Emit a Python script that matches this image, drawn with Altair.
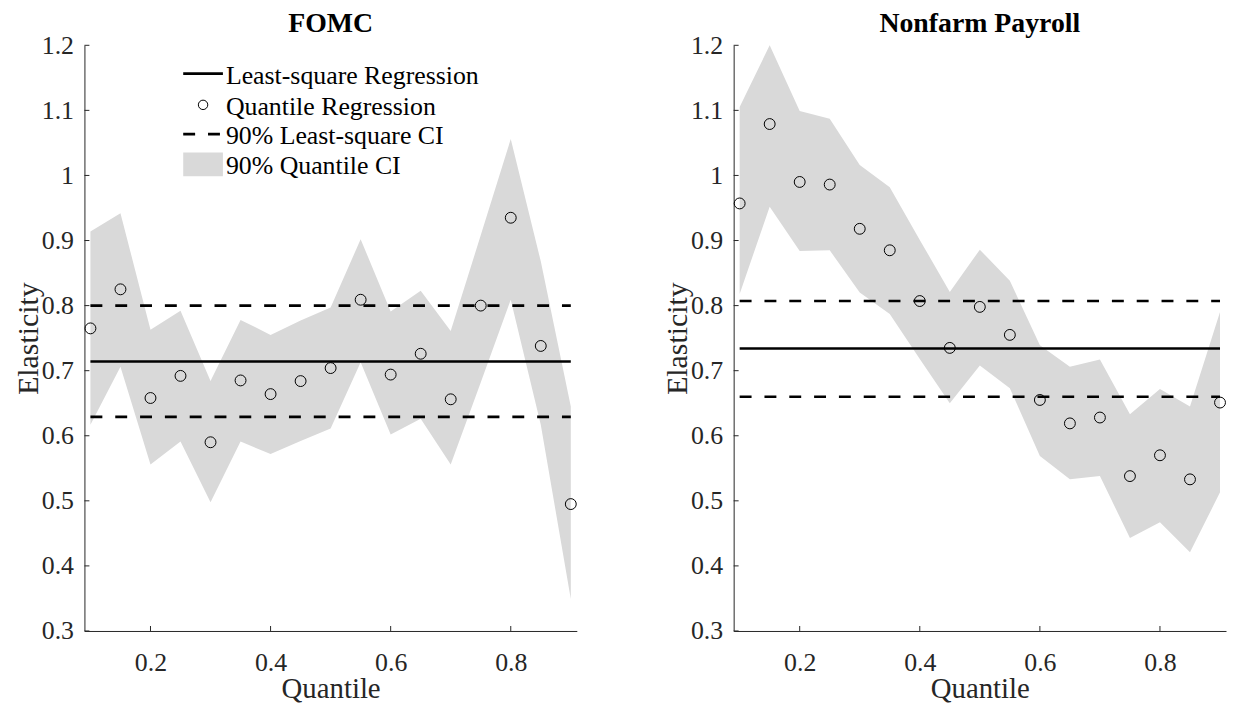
import altair as alt
import pandas as pd

quantiles = [0.10, 0.15, 0.20, 0.25, 0.30, 0.35, 0.40, 0.45, 0.50,
             0.55, 0.60, 0.65, 0.70, 0.75, 0.80, 0.85, 0.90]

fomc_qr = [0.765, 0.825, 0.658, 0.692, 0.590, 0.685, 0.664, 0.684, 0.704,
           0.809, 0.694, 0.726, 0.656, 0.800, 0.935, 0.738, 0.495]
fomc_lo = [0.617, 0.706, 0.556, 0.591, 0.498, 0.591, 0.572, 0.592, 0.611,
           0.713, 0.602, 0.626, 0.556, 0.682, 0.809, 0.617, 0.349]
fomc_hi = [0.914, 0.942, 0.763, 0.792, 0.684, 0.778, 0.755, 0.777, 0.797,
           0.902, 0.791, 0.823, 0.761, 0.908, 1.056, 0.868, 0.645]
fomc_ls = [0.714, 0.629, 0.800]   # estimate, lower CI, upper CI

nfp_qr = [0.957, 1.079, 0.990, 0.986, 0.918, 0.885, 0.807, 0.735, 0.798,
          0.755, 0.655, 0.619, 0.628, 0.538, 0.570, 0.533, 0.651]
nfp_lo = [0.818, 0.952, 0.884, 0.885, 0.820, 0.787, 0.718, 0.650, 0.708,
          0.673, 0.569, 0.533, 0.538, 0.443, 0.467, 0.421, 0.513]
nfp_hi = [1.105, 1.200, 1.099, 1.087, 1.016, 0.982, 0.901, 0.821, 0.886,
          0.838, 0.739, 0.706, 0.717, 0.633, 0.672, 0.645, 0.790]
nfp_ls = [0.734, 0.660, 0.807]

y_ticks = [0.3, 0.4, 0.5, 0.6, 0.7, 0.8, 0.9, 1.0, 1.1, 1.2]
x_ticks = [0.2, 0.4, 0.6, 0.8]
panel_titles = ["FOMC", "Nonfarm Payroll"]
legend_labels = ["Least-square Regression", "Quantile Regression",
                 "90% Least-square CI", "90% Quantile CI"]

FONT = "Liberation Serif"
AX = "#262626"
BAND = "#d9d9d9"
W, H = 496, 590
DASH = [12, 13]

xs = alt.Scale(domain=[0.09, 0.91], nice=False, zero=False)
ys = alt.Scale(domain=[0.3, 1.2], nice=False, zero=False)

xaxis = alt.Axis(values=x_ticks, format=".1f", ticks=False, grid=False,
                 domainColor=AX, domainWidth=1, labelFont=FONT, labelFontSize=26,
                 labelColor=AX, labelPadding=19, labelFlush=False, labelOverlap=False,
                 titleFont=FONT, titleFontSize=29, titleColor=AX,
                 titleFontWeight="normal", titlePadding=-1)
yaxis = alt.Axis(values=y_ticks, format="~g", ticks=False, grid=False,
                 domainColor=AX, domainWidth=1, labelFont=FONT, labelFontSize=26,
                 labelColor=AX, labelPadding=11, labelFlush=False, labelOverlap=False,
                 titleFont=FONT, titleFontSize=30, titleColor=AX,
                 titleFontWeight="normal", titlePadding=-2)


def X(field):
    return alt.X(field, scale=xs, axis=xaxis, title="Quantile")


def Y(field):
    return alt.Y(field, scale=ys, axis=yaxis, title="Elasticity")


def panel(title, qr, lo, hi, ls, legend=False):
    df = pd.DataFrame({"q": quantiles, "qr": qr, "lo": lo, "hi": hi})
    band = alt.Chart(df).mark_area(color=BAND, opacity=1).encode(
        x=X("q:Q"), y=Y("lo:Q"), y2="hi:Q")
    ls_df = pd.DataFrame({"x0": [quantiles[0]], "x1": [quantiles[-1]],
                          "est": [ls[0]], "lo": [ls[1]], "hi": [ls[2]]})
    base_ls = alt.Chart(ls_df)
    solid = base_ls.mark_rule(color="black", strokeWidth=2.6).encode(
        x=X("x0:Q"), x2="x1:Q", y=Y("est:Q"))
    dash_lo = base_ls.mark_rule(color="black", strokeWidth=2.6, strokeDash=DASH).encode(
        x=X("x0:Q"), x2="x1:Q", y=Y("lo:Q"))
    dash_hi = base_ls.mark_rule(color="black", strokeWidth=2.6, strokeDash=DASH).encode(
        x=X("x0:Q"), x2="x1:Q", y=Y("hi:Q"))
    pts = alt.Chart(df).mark_point(shape="circle", filled=False, color="black",
                                   strokeWidth=1, size=120, opacity=1).encode(
        x=X("q:Q"), y=Y("qr:Q"))
    # inward ticks (MATLAB style)
    yt = alt.Chart(pd.DataFrame({"v": y_ticks})).mark_rule(color=AX, strokeWidth=1).encode(
        y=Y("v:Q"), x=alt.value(0), x2=alt.value(5))
    xt = alt.Chart(pd.DataFrame({"v": x_ticks})).mark_rule(color=AX, strokeWidth=1).encode(
        x=X("v:Q"), y=alt.value(H), y2=alt.value(H - 5))
    layers = [band, solid, dash_lo, dash_hi, pts, yt, xt]

    if legend:
        one = pd.DataFrame({"k": [0]})
        lx0, lx1, tx = 99.5, 139.5, 142.5
        rows = [28.5, 60, 89.5, 120]
        layers.append(alt.Chart(one).mark_rule(color="black", strokeWidth=2.6).encode(
            x=alt.value(lx0), x2=alt.value(lx1), y=alt.value(rows[0])))
        layers.append(alt.Chart(one).mark_point(shape="circle", filled=False, color="black",
                                                strokeWidth=1, size=90, opacity=1).encode(
            x=alt.value((lx0 + lx1) / 2), y=alt.value(rows[1])))
        layers.append(alt.Chart(one).mark_rule(color="black", strokeWidth=2.6,
                                               strokeDash=DASH).encode(
            x=alt.value(lx0), x2=alt.value(lx1), y=alt.value(rows[2])))
        layers.append(alt.Chart(one).mark_rect(color=BAND).encode(
            x=alt.value(lx0), x2=alt.value(lx1),
            y=alt.value(rows[3] - 12), y2=alt.value(rows[3] + 12)))
        for i, lab in enumerate(legend_labels):
            layers.append(alt.Chart(pd.DataFrame({"t": [lab]})).mark_text(
                align="left", baseline="middle", font=FONT, fontSize=26, color="black",
                dy=2).encode(text="t:N", x=alt.value(tx), y=alt.value(rows[i])))

    return alt.layer(*layers).properties(
        width=W, height=H,
        title=alt.TitleParams(title, font=FONT, fontSize=28, fontWeight="bold",
                              color="black", anchor="middle", offset=-6))


left = panel(panel_titles[0], fomc_qr, fomc_lo, fomc_hi, fomc_ls, legend=True)
right = panel(panel_titles[1], nfp_qr, nfp_lo, nfp_hi, nfp_ls)

chart = alt.hconcat(left, right, spacing=84).properties(
    padding={"left": 5, "top": 0, "right": 0, "bottom": 0}
).configure(font=FONT, view=alt.ViewConfig(stroke=None))

chart.save("out.html", embed_options={"renderer": "svg", "actions": False})
